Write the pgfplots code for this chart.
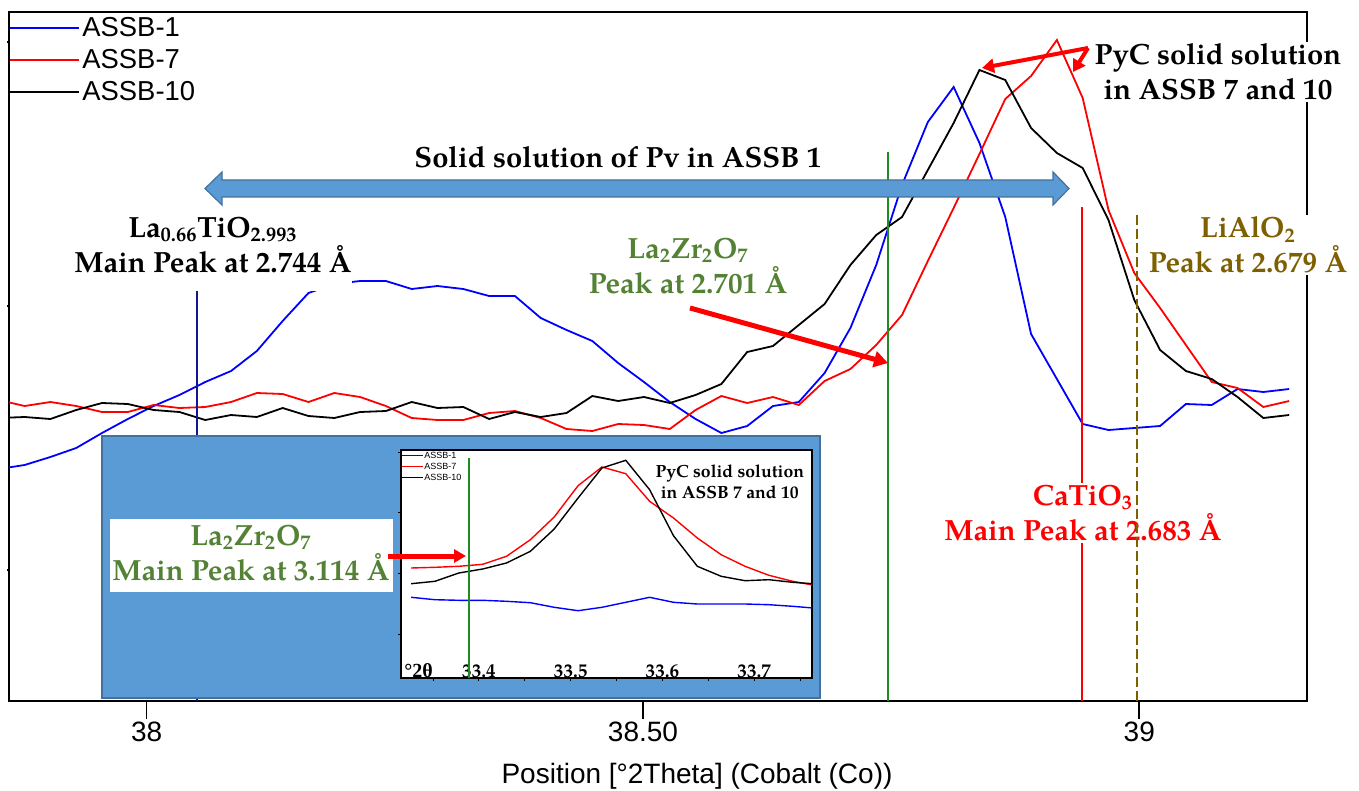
\documentclass[border=0pt]{standalone}
\usepackage{pgfplots}
\usepackage{pgfplotstable}
\pgfplotsset{compat=1.18}
\usepackage{fontspec}
\setmainfont{Liberation Sans}
\newfontfamily\pal{TeX Gyre Pagella}
\newfontfamily\libserif{Liberation Serif}
\usetikzlibrary{arrows.meta}
\definecolor{arrblue}{RGB}{91,155,213}
\definecolor{arredge}{RGB}{65,113,156}
\definecolor{navyline}{RGB}{20,20,150}
\definecolor{gline}{RGB}{30,140,30}
\definecolor{gtext}{RGB}{84,130,53}
\definecolor{gold}{RGB}{127,96,0}

\pgfplotstableread{
x b r k
37.8510 232 301 283
37.8770 236 295 284
37.9030 244 299 282
37.9290 253 295 291
37.9550 268 289 298
37.9810 282 289 297
38.0070 295 296 291
38.0330 306 293 289
38.0590 319 294 281
38.0850 330 299 286
38.1110 350 308 284
38.1370 380 307 293
38.1630 408 299 285
38.1890 417 308 283
38.2150 420 304 289
38.2410 420 295 290
38.2670 412 283 299
38.2930 415 281 293
38.3190 412 281 294
38.3450 405 288 282
38.3710 405 290 289
38.3970 383 283 284
38.4230 371 272 288
38.4490 360 270 305
38.4750 338 277 300
38.5010 319 276 304
38.5270 299 272 298
38.5530 282 291 306
38.5790 268 305 317
38.6050 275 298 349
38.6310 295 304 355
38.6570 299 296 376
38.6830 328 320 397
38.7090 373 332 436
38.7350 436 356 466
38.7610 516 386 484
38.7870 579 440 531
38.8130 614 493 578
38.8390 558 547 631
38.8650 484 602 621
38.8910 367 625 573
38.9170 322 661 548
38.9430 277 603 533
38.9690 271 491 481
38.9950 273 428 401
39.0210 275 393 351
39.0470 297 356 330
39.0730 296 319 322
39.0990 312 313 304
39.1250 309 294 283
39.1510 312 300 286
}\maindata

\pgfplotstableread{
x b r k
33.326 80.7 110.0 94.3
33.352 78.3 110.7 96.7
33.378 77.7 111.7 105.0
33.404 77.7 113.7 109.0
33.430 76.7 121.7 115.0
33.456 75.3 138.3 126.7
33.482 70.7 161.0 149.0
33.508 67.3 192.3 180.0
33.534 70.7 211.0 210.0
33.560 75.7 204.3 217.7
33.586 80.7 176.7 188.3
33.612 75.7 160.0 142.3
33.638 74.0 140.0 111.7
33.664 74.0 123.3 101.7
33.690 74.0 111.7 97.3
33.716 73.3 102.7 98.3
33.742 71.7 96.7 95.7
33.768 69.7 92.3 94.0
}\insetdata

\newcommand\lbl{\fontsize{14.6}{17.5}\selectfont\pal\bfseries}

\begin{document}
\begin{tikzpicture}
\path[use as bounding box] (0pt,0pt) rectangle (679.5pt,-395.5pt);

% ---------------- main axis ----------------
\begin{axis}[
  at={(4.5pt,-350.5pt)}, anchor=south west,
  width=649.15pt, height=344.5pt, scale only axis,
  xmin=37.8613, xmax=39.1693, ymin=0, ymax=689,
  xtick={38,38.5,39}, xticklabels={38,38.50,39},
  xtick pos=left, ytick pos=left,
  ytick=\empty,
  extra y ticks={131,395,659}, extra y tick labels={},
  extra y tick style={major tick length=1.2pt},
  tick align=outside, major tick length=9pt,
  tick style={black, line width=0.8pt},
  axis line style={line width=1pt},
  xticklabel style={font=\fontsize{14}{16}\selectfont, inner sep=1.5pt},
  /pgf/number format/assume math mode=true,
  legend style={at={(0,1)}, anchor=north west, draw=none, fill=none,
    inner xsep=0pt, inner ysep=0pt, row sep=0pt,
    font=\fontsize{13.7}{16}\selectfont,
    nodes={inner sep=1pt, text height=11pt, text depth=3pt},
    cells={anchor=west}},
  legend image code/.code={\draw[#1, line width=1pt] (0pt,0pt) -- (34.5pt,0pt);},
]
\addplot[blue, line width=0.9pt] table[x=x, y=b]{\maindata};
\addplot[red, line width=0.9pt] table[x=x, y=r]{\maindata};
\addplot[black, line width=0.9pt] table[x=x, y=k]{\maindata};
\legend{ASSB-1, ASSB-7, ASSB-10}
\addplot[navyline, line width=1.2pt, forget plot] coordinates {(38.0504,0) (38.0504,410)};
\addplot[gline, line width=1pt, forget plot] coordinates {(38.7471,0) (38.7471,549)};
\addplot[red, line width=1pt, forget plot] coordinates {(38.9428,0) (38.9428,494)};
\node[fill=white, inner sep=1pt, text=red, align=center, font=\lbl]
  at (axis cs:38.9433,188) {CaTiO\textsubscript{3}\\Main Peak at 2.683 Å};
\addplot[gold, line width=1pt, dash pattern=on 5pt off 2pt, forget plot] coordinates {(38.9974,0) (38.9974,486)};
\end{axis}

% ---------------- annotations (pixel coordinates) ----------------
\begin{scope}[x=0.5pt, y=-0.5pt]
  % big double arrow
  \filldraw[fill=arrblue, draw=arredge, line width=0.6pt]
    (205,188.5) -- (222,172) -- (222,180) -- (1053,180) -- (1053,172) -- (1069,188.5)
    -- (1053,205) -- (1053,197) -- (222,197) -- (222,205) -- cycle;
  \node[anchor=base, font=\lbl] at (618,168) {Solid solution of Pv in ASSB 1};
  \fill[white] (72,212) rectangle (352,291);
  \node[inner sep=1pt, align=center, font=\lbl]
    at (213,245) {La\textsubscript{0.66}TiO\textsubscript{2.993}\\Main Peak at 2.744 Å};
  \node[text=gtext, align=center, font=\lbl]
    at (688,266) {La\textsubscript{2}Zr\textsubscript{2}O\textsubscript{7}\\Peak at 2.701 Å};
  \node[fill=white, inner sep=1pt, align=center, font=\lbl]
    at (1218,72) {PyC solid solution\\in ASSB 7 and 10};
  \node[fill=white, inner sep=1pt, text=gold, align=center, font=\lbl]
    at (1248,245) {LiAlO\textsubscript{2}\\Peak at 2.679 Å};
  % red arrows
  \draw[red, line width=2.5pt, -{Triangle[length=7pt,width=8pt]}] (690,308) -- (888,363);
  \draw[red, line width=2pt, -{Triangle[length=6pt,width=7pt]}] (1088,48) -- (982,68);
  \draw[red, line width=2pt, -{Triangle[length=6pt,width=7pt]}] (1088,48) -- (1073,72);
  % x label
  \node[anchor=base, font=\fontsize{14}{16}\selectfont] at (697,783)
    {Position [°2Theta] (Cobalt (Co))};
  % inset background
  \filldraw[fill=arrblue, draw=arredge, line width=1pt] (102,436) rectangle (820,698);
  \fill[white] (110,519) rectangle (393,592);
  \node[text=gtext, align=center, font=\lbl]
    at (251,553) {La\textsubscript{2}Zr\textsubscript{2}O\textsubscript{7}\\Main Peak at 3.114 Å};
\end{scope}

% ---------------- inset axis ----------------
\begin{axis}[
  at={(200.5pt,-339pt)}, anchor=south west,
  width=205.5pt, height=114pt, scale only axis,
  xmin=33.315, xmax=33.763, ymin=0, ymax=228,
  axis background/.style={fill=white},
  xtick={33.4,33.5,33.6,33.7},
  minor xtick={33.35,33.45,33.55,33.65,33.75},
  ytick={44,105,166,226}, yticklabels={},
  xtick pos=left, ytick pos=left,
  tick align=outside, major tick length=1.5pt, minor tick length=1.5pt,
  tick style={black, line width=0.5pt},
  axis line style={line width=0.6pt},
  xticklabel style={font=\fontsize{9.6}{11}\selectfont\pal\bfseries, anchor=base, yshift=2pt},
  /pgf/number format/assume math mode=true,
  /pgf/number format/fixed, /pgf/number format/precision=1,
  legend style={at={(0,1)}, anchor=north west, draw=none, fill=none,
    inner xsep=0pt, inner ysep=0pt, row sep=0pt,
    font=\fontsize{4.5}{5.5}\selectfont,
    nodes={inner sep=0.5pt, text height=3.5pt, text depth=1pt},
    cells={anchor=west}},
  legend image code/.code={\draw[#1, line width=0.5pt] (0pt,0pt) -- (10.5pt,0pt);},
]
\addplot[blue, line width=0.7pt] table[x=x, y=b]{\insetdata};
\addplot[red, line width=0.7pt] table[x=x, y=r]{\insetdata};
\addplot[black, line width=0.7pt] table[x=x, y=k]{\insetdata};
\legend{ASSB-1, ASSB-7, ASSB-10}
\addplot[gline, line width=1pt, forget plot] coordinates {(33.3895,0) (33.3895,220)};
\node[align=center, font=\fontsize{8.8}{10.5}\selectfont\pal\bfseries] at (rel axis cs:0.80,0.86)
  {PyC solid solution\\in ASSB 7 and 10};
\end{axis}

\begin{scope}[x=0.5pt, y=-0.5pt]
  \draw[red, line width=2.5pt, -{Triangle[length=6pt,width=6.5pt]}] (388,556) -- (466,556);
  \node[anchor=base west, inner sep=0pt, font=\fontsize{10}{11}\selectfont\libserif\bfseries] at (404,677) {°2θ};
\end{scope}
\end{tikzpicture}
\end{document}
